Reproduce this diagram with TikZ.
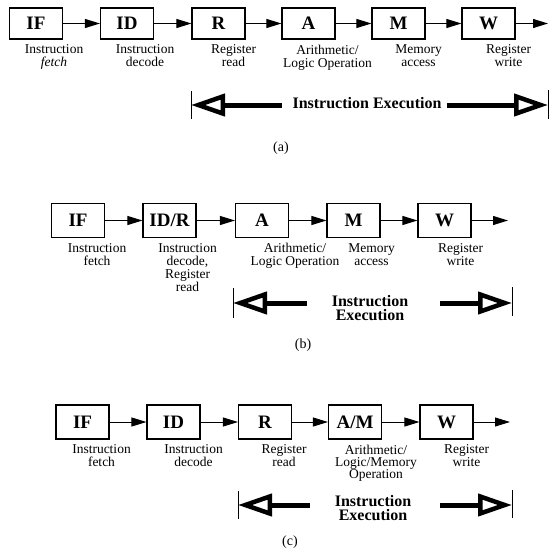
\documentclass[tikz,border=0pt]{standalone}
\usepackage{fontspec}
\setmainfont{Liberation Serif}
\usetikzlibrary{arrows.meta,positioning}

\tikzset{
  stage/.style={draw, line width=1.1pt, minimum width=53pt, minimum height=#1, inner sep=0pt,
    font=\fontsize{19}{19}\selectfont\bfseries},
  stage/.default=34pt,
  lbl/.style={anchor=north, align=center, inner sep=0pt, font=\fontsize{13.5}{13.2}\selectfont},
  flow/.style={line width=1pt, -{Triangle[length=15pt, width=9pt]}},
  exec/.style={line width=5pt, -{Triangle[open, length=34pt, width=22pt, line width=4.5pt]}},
  extxt/.style={align=center, inner sep=0pt, font=\fontsize{16}{14.5}\selectfont\bfseries},
  bar/.style={line width=0.8pt},
  sublbl/.style={inner sep=0pt, font=\fontsize{14}{14}\selectfont}
}

\begin{document}
\begin{tikzpicture}[x=1pt, y=-1pt]
\useasboundingbox (0,0) rectangle (551,560);

% (a) six stages
\node[stage=31pt] (IFa) at (36,23.5) {IF};
\node[stage=31pt] (IDa) at (127,23.5) {ID};
\node[stage=31pt] (Ra) at (218.5,23.5) {R};
\node[stage=31pt] (Aa) at (308.5,23.5) {A};
\node[stage=31pt] (Ma) at (398.5,23.5) {M};
\node[stage=31pt] (Wa) at (488.5,23.5) {W};
\coordinate (aEnd) at (548,23.5);

\node[lbl] (lIFa) at ([xshift=18pt, yshift=-5pt]IFa.south) {Instruction\\\textit{fetch}};
\node[lbl] (lIDa) at ([xshift=18pt, yshift=-5pt]IDa.south) {Instruction\\decode};
\node[lbl] (lRa) at ([xshift=15pt, yshift=-5pt]Ra.south) {Register\\read};
\node[lbl] (lAa) at ([xshift=19pt, yshift=-5pt]Aa.south) {Arithmetic/\\Logic Operation};
\node[lbl] (lMa) at ([xshift=20pt, yshift=-5pt]Ma.south) {Memory\\access};
\node[lbl] (lWa) at ([xshift=20pt, yshift=-5pt]Wa.south) {Register\\write};

\draw[flow] (IFa) -- (IDa);
\draw[flow] (IDa) -- (Ra);
\draw[flow] (Ra) -- (Aa);
\draw[flow] (Aa) -- (Ma);
\draw[flow] (Ma) -- (Wa);
\draw[flow] (Wa) -- (aEnd);

\node[extxt] (xa) at (367,103.5) {Instruction Execution};
\coordinate (aL) at (191,105);
\coordinate (aLs) at (282,105);
\coordinate (aR) at (548,105);
\coordinate (aRs) at (447,105);
\draw[exec] (aLs) -- (aL);
\draw[exec] (aRs) -- (aR);
\draw[bar] ([yshift=14pt]aL) -- ([yshift=-14pt]aL);
\draw[bar] ([yshift=15pt]aR) -- ([yshift=-14pt]aR);
\node[sublbl] (capa) at (281,148) {(a)};

% (b) five stages
\node[stage] (IFb) at (78,220.5) {IF};
\node[stage] (IDRb) at (169.5,220.5) {ID/R};
\node[stage] (Ab) at (262,220.5) {A};
\node[stage] (Mb) at (353.5,220.5) {M};
\node[stage] (Wb) at (444.5,220.5) {W};
\coordinate (bEnd) at (508,220.5);

\node[lbl] (lIFb) at ([xshift=19pt, yshift=-5pt]IFb.south) {Instruction\\fetch};
\node[lbl] (lIDRb) at ([xshift=18pt, yshift=-5pt]IDRb.south) {Instruction\\decode,\\Register\\read};
\node[lbl] (lAb) at ([xshift=33pt, yshift=-5pt]Ab.south) {Arithmetic/\\Logic Operation};
\node[lbl] (lMb) at ([xshift=18pt, yshift=-5pt]Mb.south) {Memory\\access};
\node[lbl] (lWb) at ([xshift=16pt, yshift=-5pt]Wb.south) {Register\\write};

\draw[flow] (IFb) -- (IDRb);
\draw[flow] (IDRb) -- (Ab);
\draw[flow] (Ab) -- (Mb);
\draw[flow] (Mb) -- (Wb);
\draw[flow] (Wb) -- (bEnd);

\node[extxt] (xb) at (370,308) {Instruction\\Execution};
\coordinate (bL) at (233,303);
\coordinate (bLs) at (307,303);
\coordinate (bR) at (512,303);
\coordinate (bRs) at (440,303);
\draw[exec] (bLs) -- (bL);
\draw[exec] (bRs) -- (bR);
\draw[bar] ([yshift=15pt]bL) -- ([yshift=-15pt]bL);
\draw[bar] ([yshift=16pt]bR) -- ([yshift=-13pt]bR);
\node[sublbl] (capb) at (303,345) {(b)};

% (c) five stages
\node[stage] (IFc) at (82.5,422) {IF};
\node[stage] (IDc) at (173.5,422) {ID};
\node[stage] (Rc) at (265,422) {R};
\node[stage] (AMc) at (355,422) {A/M};
\node[stage] (Wc) at (446.5,422) {W};
\coordinate (cEnd) at (510,422);

\node[lbl] (lIFc) at ([xshift=19pt, yshift=-5pt]IFc.south) {Instruction\\fetch};
\node[lbl] (lIDc) at ([xshift=20pt, yshift=-5pt]IDc.south) {Instruction\\decode};
\node[lbl] (lRc) at ([xshift=19pt, yshift=-5pt]Rc.south) {Register\\read};
\node[lbl, font=\fontsize{13.5}{12}\selectfont] (lAMc) at ([xshift=21pt, yshift=-5pt]AMc.south) {Arithmetic/\\Logic/Memory\\Operation};
\node[lbl] (lWc) at ([xshift=20pt, yshift=-5pt]Wc.south) {Register\\write};

\draw[flow] (IFc) -- (IDc);
\draw[flow] (IDc) -- (Rc);
\draw[flow] (Rc) -- (AMc);
\draw[flow] (AMc) -- (Wc);
\draw[flow] (Wc) -- (cEnd);

\node[extxt] (xc) at (373,508) {Instruction\\Execution};
\coordinate (cL) at (238,505);
\coordinate (cLs) at (310,505);
\coordinate (cR) at (512,505);
\coordinate (cRs) at (440,505);
\draw[exec] (cLs) -- (cL);
\draw[exec] (cRs) -- (cR);
\draw[bar] ([yshift=14pt]cL) -- ([yshift=-14pt]cL);
\draw[bar] ([yshift=15pt]cR) -- ([yshift=-13pt]cR);
\node[sublbl] (capc) at (290,542) {(c)};
\end{tikzpicture}
\end{document}
